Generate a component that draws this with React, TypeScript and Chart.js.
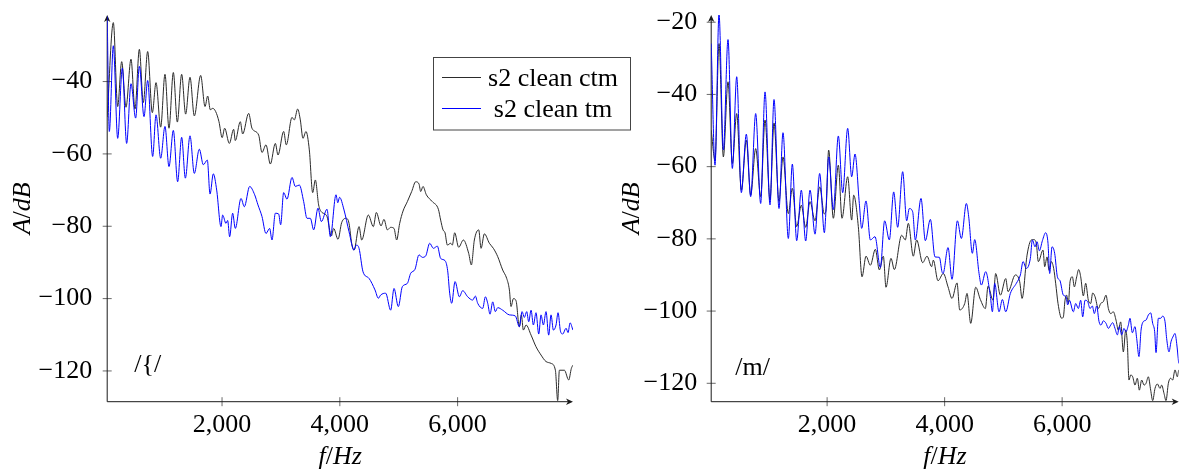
import { useEffect, useRef } from 'react';
import { Chart, registerables } from 'chart.js';

Chart.register(...registerables);

// ---- /{/ segment: amplitude spectra (Hz, dB) ----
const fricCtmHz = [
  50, 154, 228, 296, 369, 454, 522, 596, 663, 737, 816, 879, 958, 1031, 1099, 1173, 1241, 1314, 1382, 1456,
  1529, 1637, 1711, 1756, 1801, 1841, 1892, 1948, 2002, 2044, 2124, 2197, 2225, 2310, 2350, 2452, 2508, 2622,
  2678, 2746, 2820, 2905, 2950, 3046, 3091, 3188, 3227, 3284, 3329, 3374, 3425, 3482, 3539, 3584, 3640, 3686,
  3782, 3856, 3895, 3969, 4031, 4111, 4156, 4201, 4241, 4326, 4371, 4484, 4569, 4620, 4699, 4750, 4807, 4863,
  4920, 4965, 5016, 5073, 5146, 5220, 5288, 5344, 5373, 5412, 5469, 5571, 5673, 5712, 5752, 5786, 5826, 5882,
  5910, 5950, 6018, 6098, 6188, 6233, 6284, 6358, 6398, 6454, 6539, 6607, 6681, 6765, 6833, 6879, 6907, 6947,
  6992, 7048, 7082, 7116, 7162, 7247, 7331, 7416, 7501, 7586, 7660, 7699, 7728, 7813, 7886, 7931, 7958,
];
const fricCtmDb = [
  -49.8, -23.7, -46.9, -34.5, -47.1, -33.8, -47.6, -31.1, -45.8, -31.7, -48.6, -40.3, -52.6, -38.0, -52.9, -37.5,
  -51.2, -38.0, -49.0, -38.8, -49.5, -38.3, -46.9, -44.0, -47.8, -47.4, -48.3, -51.1, -55.5, -52.9, -57.1, -53.2,
  -56.3, -51.1, -54.5, -48.8, -52.9, -54.8, -59.6, -57.5, -62.8, -57.1, -60.3, -53.8, -57.5, -49.9, -50.6, -47.6,
  -50.6, -55.7, -53.8, -58.9, -70.7, -67.2, -74.1, -76.0, -77.3, -82.7, -80.6, -83.6, -79.0, -77.8, -79.2, -84.7,
  -86.6, -80.1, -83.8, -76.9, -80.1, -76.2, -79.9, -78.1, -81.0, -80.3, -80.6, -83.8, -79.2, -75.8, -73.2, -70.4,
  -67.7, -68.3, -70.4, -69.0, -71.3, -73.2, -75.3, -78.3, -81.0, -81.8, -85.2, -84.7, -85.2, -81.8, -85.8, -83.8,
  -87.5, -90.7, -83.8, -81.0, -86.1, -82.1, -84.7, -86.1, -88.4, -92.1, -94.4, -97.6, -102.2, -100.0, -100.6,
  -107.8, -104.5, -108.7, -107.3, -110.1, -113.3, -115.6, -117.4, -117.9, -119.8, -128.2, -119.8, -119.8, -122.5,
  -119.3, -118.4,
];
const fricTmHz = [
  50, 86, 154, 228, 307, 380, 454, 533, 596, 675, 737, 822, 879, 958, 1031, 1099, 1173, 1246, 1314, 1377, 1456,
  1529, 1614, 1682, 1750, 1796, 1852, 1909, 1982, 2010, 2067, 2095, 2129, 2180, 2225, 2322, 2378, 2469, 2554,
  2610, 2678, 2746, 2808, 2848, 2905, 2961, 2995, 3046, 3103, 3188, 3244, 3312, 3386, 3442, 3499, 3556, 3629,
  3686, 3782, 3839, 3935, 3965, 3995, 4071, 4156, 4241, 4280, 4326, 4394, 4495, 4597, 4654, 4694, 4778, 4863,
  4920, 4993, 5061, 5146, 5203, 5276, 5344, 5401, 5458, 5526, 5588, 5656, 5712, 5786, 5831, 5865, 5899, 5956,
  6030, 6086, 6171, 6256, 6301, 6341, 6426, 6471, 6511, 6550, 6596, 6641, 6681, 6765, 6879, 6980, 7048, 7094,
  7133, 7173, 7207, 7247, 7286, 7331, 7377, 7416, 7456, 7501, 7546, 7586, 7626, 7671, 7705, 7745, 7784, 7841,
  7875, 7909, 7958,
];
const fricTmDb = [
  -22.0, -53.8, -30.1, -55.7, -36.3, -57.1, -40.6, -50.1, -35.8, -49.7, -39.7, -60.7, -49.2, -61.2, -52.4, -63.5,
  -53.5, -67.7, -55.4, -66.7, -55.0, -65.4, -58.7, -63.0, -61.7, -71.1, -65.5, -70.0, -80.1, -76.9, -79.2, -78.4,
  -82.9, -76.4, -80.6, -72.3, -74.6, -69.0, -71.3, -74.1, -77.3, -82.0, -80.6, -83.8, -76.4, -76.6, -79.6, -70.7,
  -72.5, -66.5, -69.0, -68.6, -73.2, -77.8, -77.8, -81.0, -75.0, -78.7, -75.3, -82.9, -71.3, -73.5, -72.0, -75.5,
  -81.5, -86.6, -85.2, -86.1, -92.6, -94.4, -97.6, -99.9, -99.0, -98.5, -103.2, -97.2, -102.2, -96.7, -95.8,
  -93.0, -91.9, -87.9, -88.6, -88.2, -84.7, -86.1, -85.5, -88.9, -89.5, -92.3, -98.5, -101.3, -95.3, -99.5, -97.8,
  -99.5, -100.4, -99.3, -101.3, -102.7, -99.5, -101.3, -104.3, -100.9, -103.6, -102.5, -103.2, -104.5, -104.8,
  -107.8, -103.6, -105.2, -103.6, -106.4, -103.2, -107.3, -103.9, -109.8, -104.5, -107.3, -103.6, -110.1, -104.5,
  -108.7, -107.3, -103.9, -108.9, -109.8, -108.2, -109.4, -106.7, -108.7,
];

// ---- /m/ segment: amplitude spectra (Hz, dB) ----
const nasalCtmHz = [
  27, 92, 160, 234, 313, 387, 461, 540, 625, 699, 784, 869, 943, 1028, 1096, 1181, 1249, 1340, 1408, 1482, 1561,
  1635, 1709, 1794, 1873, 1953, 1981, 2026, 2106, 2191, 2253, 2350, 2418, 2452, 2531, 2594, 2662, 2736, 2821,
  2889, 2957, 3002, 3087, 3144, 3269, 3331, 3382, 3467, 3524, 3626, 3700, 3779, 3808, 3887, 3978, 4058, 4126,
  4211, 4257, 4342, 4381, 4444, 4529, 4608, 4693, 4739, 4824, 4869, 4949, 5040, 5079, 5204, 5278, 5318, 5403,
  5476, 5516, 5561, 5595, 5675, 5703, 5743, 5777, 5817, 5856, 5890, 5930, 5992, 6021, 6049, 6077, 6106, 6134,
  6174, 6208, 6248, 6282, 6316, 6361, 6401, 6446, 6486, 6520, 6560, 6616, 6656, 6701, 6747, 6787, 6826, 6872,
  6917, 6957, 6996, 7042, 7082, 7110, 7138, 7167, 7201, 7240, 7280, 7314, 7354, 7394, 7428, 7467, 7507, 7541,
  7581, 7621, 7666, 7694, 7734, 7768, 7808, 7847, 7881, 7921, 7961, 7984,
];
const nasalCtmDb = [
  -49.9, -58.2, -25.9, -57.3, -36.5, -59.1, -45.3, -66.5, -52.7, -67.9, -55.0, -68.3, -47.1, -69.3, -47.9, -69.7,
  -57.3, -73.0, -66.0, -76.6, -70.7, -76.8, -69.7, -75.0, -65.6, -73.1, -72.0, -55.4, -74.3, -59.6, -74.3, -62.8,
  -74.8, -67.9, -76.6, -90.5, -84.8, -87.3, -82.9, -88.6, -84.8, -93.4, -85.4, -88.5, -79.0, -80.3, -75.7, -84.8,
  -80.3, -86.6, -84.8, -87.7, -85.9, -91.6, -89.6, -93.3, -96.5, -92.2, -99.7, -97.9, -95.1, -103.4, -93.4, -96.8,
  -99.3, -93.1, -97.0, -89.6, -95.6, -91.0, -94.6, -90.0, -91.9, -96.5, -84.5, -80.3, -80.2, -81.3, -86.3, -83.1,
  -87.7, -85.0, -88.7, -86.3, -88.2, -92.3, -97.9, -102.0, -101.6, -97.0, -95.6, -97.9, -91.9, -90.5, -93.3, -90.5,
  -88.5, -90.5, -95.8, -92.3, -97.0, -97.9, -95.0, -96.0, -99.3, -97.9, -97.4, -95.6, -99.3, -100.7, -100.2,
  -102.5, -105.3, -103.0, -111.3, -105.3, -109.0, -119.1, -117.7, -118.2, -120.5, -118.6, -121.9, -119.1, -120.5,
  -120.0, -118.2, -121.9, -124.8, -121.4, -120.2, -121.4, -120.5, -122.8, -124.8, -120.0, -118.6, -119.1, -116.3,
  -118.2, -116.3,
];
const nasalTmHz = [
  27, 92, 160, 234, 313, 387, 461, 540, 625, 699, 784, 869, 943, 1028, 1096, 1181, 1249, 1340, 1408, 1482, 1561,
  1635, 1709, 1794, 1873, 1953, 1981, 2026, 2106, 2191, 2265, 2350, 2418, 2475, 2548, 2588, 2662, 2736, 2815,
  2906, 2979, 3059, 3133, 3201, 3286, 3354, 3399, 3456, 3501, 3598, 3672, 3757, 3836, 3910, 3955, 3973, 4058,
  4126, 4217, 4285, 4370, 4410, 4472, 4512, 4586, 4625, 4699, 4779, 4813, 4852, 4926, 4983, 5040, 5119, 5221,
  5289, 5335, 5391, 5459, 5493, 5539, 5573, 5613, 5664, 5720, 5760, 5788, 5828, 5873, 5919, 5964, 6021, 6066,
  6094, 6123, 6191, 6231, 6276, 6316, 6350, 6390, 6435, 6475, 6514, 6548, 6588, 6628, 6662, 6701, 6747, 6787,
  6826, 6860, 6900, 6940, 6974, 7013, 7053, 7087, 7127, 7155, 7195, 7240, 7269, 7308, 7343, 7382, 7428, 7467,
  7507, 7541, 7575, 7598, 7638, 7677, 7711, 7751, 7779, 7819, 7853, 7893, 7921, 7950, 7984,
];
const nasalTmDb = [
  -25.9, -59.6, -17.8, -55.4, -24.8, -60.5, -35.1, -67.2, -51.0, -68.3, -45.3, -70.2, -39.3, -70.6, -41.4, -71.6,
  -50.6, -79.9, -59.3, -80.5, -66.5, -80.6, -66.5, -78.7, -61.9, -78.3, -72.0, -57.3, -71.9, -51.5, -67.2, -49.4,
  -62.8, -56.5, -70.2, -77.1, -69.5, -80.3, -79.4, -87.9, -75.0, -80.3, -67.0, -76.8, -61.4, -75.0, -71.6, -72.5,
  -80.3, -68.8, -80.5, -74.6, -85.0, -85.1, -89.1, -89.6, -82.4, -91.2, -75.0, -79.9, -70.2, -73.9, -84.0, -80.2,
  -89.6, -92.8, -89.1, -96.0, -100.2, -92.3, -100.2, -96.8, -100.2, -95.1, -92.3, -90.0, -86.3, -88.2, -85.4,
  -80.3, -82.2, -80.8, -83.3, -80.5, -78.3, -81.3, -89.6, -82.2, -84.0, -90.5, -91.6, -95.6, -96.0, -98.3, -97.0,
  -100.2, -97.9, -99.3, -97.0, -101.6, -97.0, -97.4, -99.3, -98.6, -100.7, -98.6, -102.9, -103.9, -102.7, -103.4,
  -104.8, -103.9, -103.2, -104.8, -106.6, -104.3, -106.6, -104.8, -105.7, -103.9, -102.0, -106.0, -104.3, -107.6,
  -112.6, -105.3, -102.9, -102.5, -101.1, -100.5, -103.4, -105.7, -111.5, -102.0, -102.0, -101.4, -102.9, -107.6,
  -111.3, -108.5, -106.9, -106.2, -109.0, -114.5,
];

const SERIES_NAMES = ['s2 clean ctm', 's2 clean tm'];
const X_TICKS = [2000, 4000, 6000];
const Y_TICKS_FRIC = [-120, -100, -80, -60, -40];
const Y_TICKS_NASAL = [-120, -100, -80, -60, -40, -20];

const CTM_COLOR = '#2b2b2b';
const TM_COLOR = '#0000ff';
const FAMILY = '"Liberation Serif", "Times New Roman", serif';
const SIZE = 26;
const HEIGHT = 473;
const AXIS_Y = 401.7;
const TOP = 15;

type Panel = {
  left: number;
  width: number;
  xMin: number;
  xMax: number;
  yMin: number;
  yMax: number;
  yTicks: number[];
  axisWidth: number;
  padRight: number;
  yLabelPad: number;
  segment: string;
  segmentDx: number;
  segmentBaseline: number;
  yTitleBaselineX: number;
  legend: boolean;
  ctmHz: number[];
  ctmDb: number[];
  tmHz: number[];
  tmDb: number[];
};

const PANELS: Panel[] = [
  {
    left: 0, width: 640, xMin: 50, xMax: 7959, yMin: -128.5, yMax: -21.6, yTicks: Y_TICKS_FRIC,
    axisWidth: 107.2, padRight: 67, yLabelPad: 15, segment: '/{/', segmentDx: 27, segmentBaseline: 371.5,
    yTitleBaselineX: 30, legend: true,
    ctmHz: fricCtmHz, ctmDb: fricCtmDb, tmHz: fricTmHz, tmDb: fricTmDb,
  },
  {
    left: 600, width: 581, xMin: 27, xMax: 7984, yMin: -125.1, yMax: -18, yTicks: Y_TICKS_NASAL,
    axisWidth: 111.2, padRight: 2.3, yLabelPad: 14, segment: '/m/', segmentDx: 24, segmentBaseline: 375,
    yTitleBaselineX: 38.5, legend: false,
    ctmHz: nasalCtmHz, ctmDb: nasalCtmDb, tmHz: nasalTmHz, tmDb: nasalTmDb,
  },
];

const font = (italic: boolean) => `${italic ? 'italic ' : ''}${SIZE}px ${FAMILY}`;
const minusLabel = (v: number) => (v < 0 ? '\u2212' + Math.abs(v) : String(v));
const toPoints = (hz: number[], db: number[]) => hz.map((f, i) => ({ x: f, y: db[i] }));

// Math-style text: italic letters with an upright slash, centred on (cx, baseline)
function drawMath(ctx: CanvasRenderingContext2D, parts: [string, boolean][], cx: number, base: number, rotate: boolean) {
  ctx.save();
  ctx.translate(cx, base);
  if (rotate) ctx.rotate(-Math.PI / 2);
  const widths = parts.map(([s, it]) => {
    ctx.font = font(it);
    return ctx.measureText(s).width;
  });
  const total = widths.reduce((a, b) => a + b, 0);
  let x = -total / 2;
  ctx.textBaseline = 'alphabetic';
  ctx.textAlign = 'left';
  ctx.fillStyle = '#000';
  parts.forEach(([s, it], i) => {
    ctx.font = font(it);
    ctx.fillText(s, x, 0);
    x += widths[i];
  });
  ctx.restore();
}

function arrowHead(ctx: CanvasRenderingContext2D, x: number, y: number, angle: number) {
  ctx.save();
  ctx.translate(x, y);
  ctx.rotate(angle);
  ctx.beginPath();
  ctx.moveTo(0, 0);
  ctx.lineTo(-7, -3.2);
  ctx.lineTo(-5, 0);
  ctx.lineTo(-7, 3.2);
  ctx.closePath();
  ctx.fillStyle = '#1a1a1a';
  ctx.fill();
  ctx.restore();
}

function makeDecor(panel: Panel) {
  return {
    id: 'decor',
    beforeDatasetsDraw(chart: any) {
      const { ctx, chartArea: a } = chart;
      const xs = chart.scales.x;
      const ys = chart.scales.y;
      ctx.save();
      ctx.strokeStyle = '#6a6a6a';
      ctx.lineWidth = 1;
      ctx.beginPath();
      xs.ticks.forEach((t: any) => {
        const p = xs.getPixelForValue(t.value);
        ctx.moveTo(p, a.bottom - 4.5);
        ctx.lineTo(p, a.bottom + 4.5);
      });
      ys.ticks.forEach((t: any) => {
        const p = ys.getPixelForValue(t.value);
        ctx.moveTo(a.left - 4.5, p);
        ctx.lineTo(a.left + 4.5, p);
      });
      ctx.stroke();
      ctx.strokeStyle = '#1a1a1a';
      ctx.beginPath();
      ctx.moveTo(a.left, a.bottom);
      ctx.lineTo(a.right - 3, a.bottom);
      ctx.moveTo(a.left, a.bottom);
      ctx.lineTo(a.left, a.top + 3);
      ctx.stroke();
      arrowHead(ctx, a.right, a.bottom, 0);
      arrowHead(ctx, a.left, a.top, -Math.PI / 2);
      ctx.restore();
    },
    afterDraw(chart: any) {
      const { ctx, chartArea: a } = chart;
      ctx.save();
      // segment label inside the plot
      ctx.font = font(false);
      ctx.fillStyle = '#000';
      ctx.textAlign = 'left';
      ctx.textBaseline = 'alphabetic';
      ctx.fillText(panel.segment, a.left + panel.segmentDx, panel.segmentBaseline);
      // axis titles
      drawMath(ctx, [['A', true], ['/', false], ['dB', true]], panel.yTitleBaselineX, (a.top + a.bottom) / 2, true);
      drawMath(ctx, [['f', true], ['/', false], ['Hz', true]], (a.left + a.right) / 2, 464, false);
      // legend box
      if (panel.legend) {
        const bx = 433.5, by = 57.5, bw = 197, bh = 72.5;
        ctx.strokeStyle = '#444';
        ctx.lineWidth = 1;
        ctx.strokeRect(bx, by, bw, bh);
        const rows = [
          { name: SERIES_NAMES[0], color: CTM_COLOR, y: 77.5 },
          { name: SERIES_NAMES[1], color: TM_COLOR, y: 108.5 },
        ];
        rows.forEach((r) => {
          ctx.strokeStyle = r.color;
          ctx.beginPath();
          ctx.moveTo(442, r.y);
          ctx.lineTo(481, r.y);
          ctx.stroke();
          ctx.font = font(false);
          ctx.fillStyle = '#000';
          ctx.textAlign = 'center';
          ctx.fillText(r.name, 553, r.y + 8);
        });
      }
      ctx.restore();
    },
  };
}

function SpectrumPanel({ panel }: { panel: Panel }) {
  const ref = useRef<HTMLCanvasElement>(null);
  useEffect(() => {
    const canvas = ref.current;
    if (!canvas) return;
    const chart = new Chart(canvas, {
      type: 'line',
      data: {
        datasets: [
          {
            label: SERIES_NAMES[1],
            data: toPoints(panel.tmHz, panel.tmDb),
            borderColor: TM_COLOR,
            borderWidth: 1,
            pointRadius: 0,
            fill: false,
            cubicInterpolationMode: 'monotone',
          },
          {
            label: SERIES_NAMES[0],
            data: toPoints(panel.ctmHz, panel.ctmDb),
            borderColor: CTM_COLOR,
            borderWidth: 1,
            pointRadius: 0,
            fill: false,
            cubicInterpolationMode: 'monotone',
          },
        ],
      },
      options: {
        animation: false,
        responsive: false,
        devicePixelRatio: 1,
        events: [],
        layout: { padding: { left: 0, top: TOP, right: panel.padRight, bottom: 0 } },
        plugins: { legend: { display: false }, tooltip: { enabled: false } },
        scales: {
          x: {
            type: 'linear',
            min: panel.xMin,
            max: panel.xMax,
            grid: { display: false, drawTicks: false },
            border: { display: false },
            afterBuildTicks: (s: any) => {
              s.ticks = X_TICKS.map((v) => ({ value: v }));
            },
            afterFit: (s: any) => {
              s.height = HEIGHT - AXIS_Y;
              s.paddingLeft = 0;
              s.paddingRight = 0;
            },
            ticks: {
              padding: 8,
              color: '#000',
              font: { family: FAMILY, size: SIZE },
              maxRotation: 0,
              autoSkip: false,
              callback: (v: any) => Number(v).toLocaleString('en-US'),
            },
          },
          y: {
            type: 'linear',
            min: panel.yMin,
            max: panel.yMax,
            grid: { display: false, drawTicks: false },
            border: { display: false },
            afterBuildTicks: (s: any) => {
              s.ticks = panel.yTicks.map((v) => ({ value: v }));
            },
            afterFit: (s: any) => {
              s.width = panel.axisWidth;
              s.paddingTop = 0;
              s.paddingBottom = 0;
            },
            ticks: {
              padding: panel.yLabelPad,
              color: '#000',
              font: { family: FAMILY, size: SIZE },
              autoSkip: false,
              callback: (v: any) => minusLabel(Number(v)),
            },
          },
        },
      },
      plugins: [makeDecor(panel)],
    } as any);
    return () => chart.destroy();
  }, [panel]);
  return (
    <canvas
      ref={ref}
      width={panel.width}
      height={HEIGHT}
      style={{ position: 'absolute', left: panel.left, top: 0, width: panel.width, height: HEIGHT }}
    />
  );
}

export default function App() {
  return (
    <div style={{ position: 'absolute', left: 0, top: 0, width: 1181, height: HEIGHT, background: '#fff' }}>
      {PANELS.map((p) => (
        <SpectrumPanel key={p.segment} panel={p} />
      ))}
    </div>
  );
}
